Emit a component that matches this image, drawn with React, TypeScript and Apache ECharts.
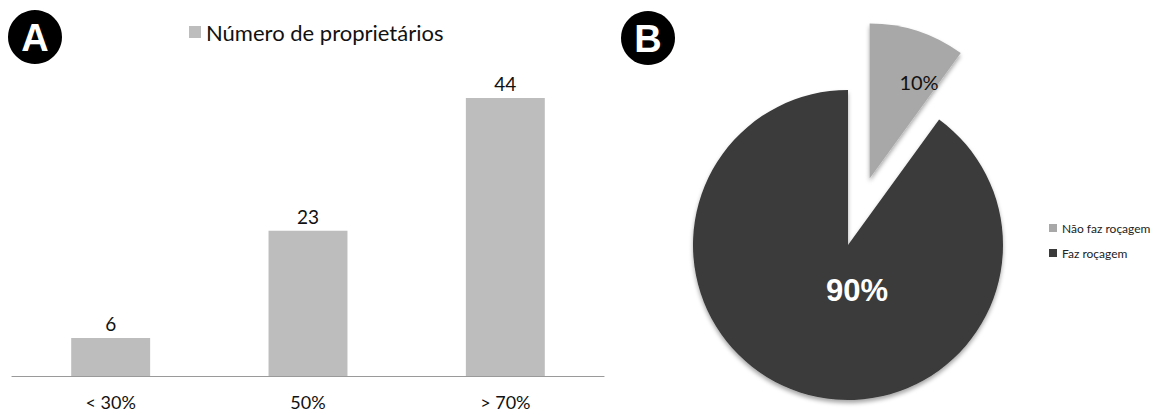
import React, { useEffect, useRef } from "react";
import * as echarts from "echarts";

const barCategories = ["< 30%", "50%", "> 70%"];
const barValues = [6, 23, 44];
const barSeriesName = "Número de proprietários";

const pieNames = ["Não faz roçagem", "Faz roçagem"];
const pieValues = [10, 90];
const pieColors = ["#a8a8a8", "#3a3a3a"];

export default function App() {
  const ref = useRef<HTMLDivElement>(null);
  useEffect(() => {
    if (!ref.current) return;
    const chart = echarts.init(ref.current, undefined, { renderer: "svg" });
    const total = pieValues.reduce((a, b) => a + b, 0);
    const pct = pieValues.map((v) => Math.round((v / total) * 100) + "%");
    chart.setOption({
      animation: false,
      backgroundColor: "#ffffff",
      textStyle: { fontFamily: "Lato" },
      legend: [
        {
          data: [barSeriesName],
          left: 184,
          top: 16,
          icon: "rect",
          itemWidth: 12,
          itemHeight: 12,
          itemGap: 6,
          textStyle: { fontSize: 22, color: "#111", fontFamily: "Lato" },
        },
        {
          data: pieNames,
          orient: "vertical",
          left: 1044,
          top: 217,
          icon: "rect",
          itemWidth: 8,
          itemHeight: 8,
          itemGap: 13,
          textStyle: { fontSize: 12, color: "#222", fontFamily: "Lato" },
        },
      ],
      grid: { left: 12, right: 564, top: 60, bottom: 39 },
      xAxis: {
        type: "category",
        data: barCategories,
        axisLine: { lineStyle: { color: "#9a9a9a", width: 1.2 } },
        axisTick: { show: false },
        axisLabel: { fontSize: 18, color: "#111", margin: 17, fontFamily: "Lato" },
      },
      yAxis: {
        type: "value",
        min: 0,
        max: 50,
        show: false,
        splitLine: { show: false },
      },
      series: [
        {
          name: barSeriesName,
          type: "bar",
          data: barValues,
          barWidth: "40%",
          itemStyle: { color: "#bdbdbd" },
          label: {
            show: true,
            position: "top",
            distance: 5,
            fontSize: 19,
            color: "#111",
            fontFamily: "Lato",
          },
        },
        {
          name: "pie",
          type: "pie",
          center: [848, 245],
          radius: 155,
          startAngle: 90,
          clockwise: true,
          selectedMode: "single",
          selectedOffset: 70,
          label: { show: false },
          labelLine: { show: false },
          emphasis: { disabled: true },
          itemStyle: {
            shadowColor: "rgba(0,0,0,0.35)",
            shadowBlur: 4,
            shadowOffsetY: 3,
          },
          data: pieNames.map((n, i) => ({
            name: n,
            value: pieValues[i],
            selected: i === 0,
            itemStyle: { color: pieColors[i] },
          })),
        },
      ],
      graphic: [
        { type: "circle", z: 100, shape: { cx: 35, cy: 37, r: 27 }, style: { fill: "#000" } },
        {
          type: "text",
          z: 101,
          x: 35,
          y: 38,
          style: {
            text: "A",
            fill: "#fff",
            font: "bold 38px 'Liberation Sans'",
            align: "center",
            verticalAlign: "middle",
          },
        },
        { type: "circle", z: 100, shape: { cx: 648, cy: 38, r: 27 }, style: { fill: "#000" } },
        {
          type: "text",
          z: 101,
          x: 648,
          y: 39,
          style: {
            text: "B",
            fill: "#fff",
            font: "bold 38px 'Liberation Sans'",
            align: "center",
            verticalAlign: "middle",
          },
        },
        {
          type: "text",
          z: 101,
          x: 919,
          y: 82,
          style: {
            text: pct[0],
            fill: "#111",
            font: "20px Lato",
            align: "center",
            verticalAlign: "middle",
          },
        },
        {
          type: "text",
          z: 101,
          x: 857,
          y: 290,
          style: {
            text: pct[1],
            fill: "#fff",
            font: "bold 31px 'Liberation Sans'",
            align: "center",
            verticalAlign: "middle",
          },
        },
      ],
    });
    return () => chart.dispose();
  }, []);
  return (
    <div
      ref={ref}
      style={{ position: "fixed", left: 0, top: 0, width: 1168, height: 415 }}
    />
  );
}
